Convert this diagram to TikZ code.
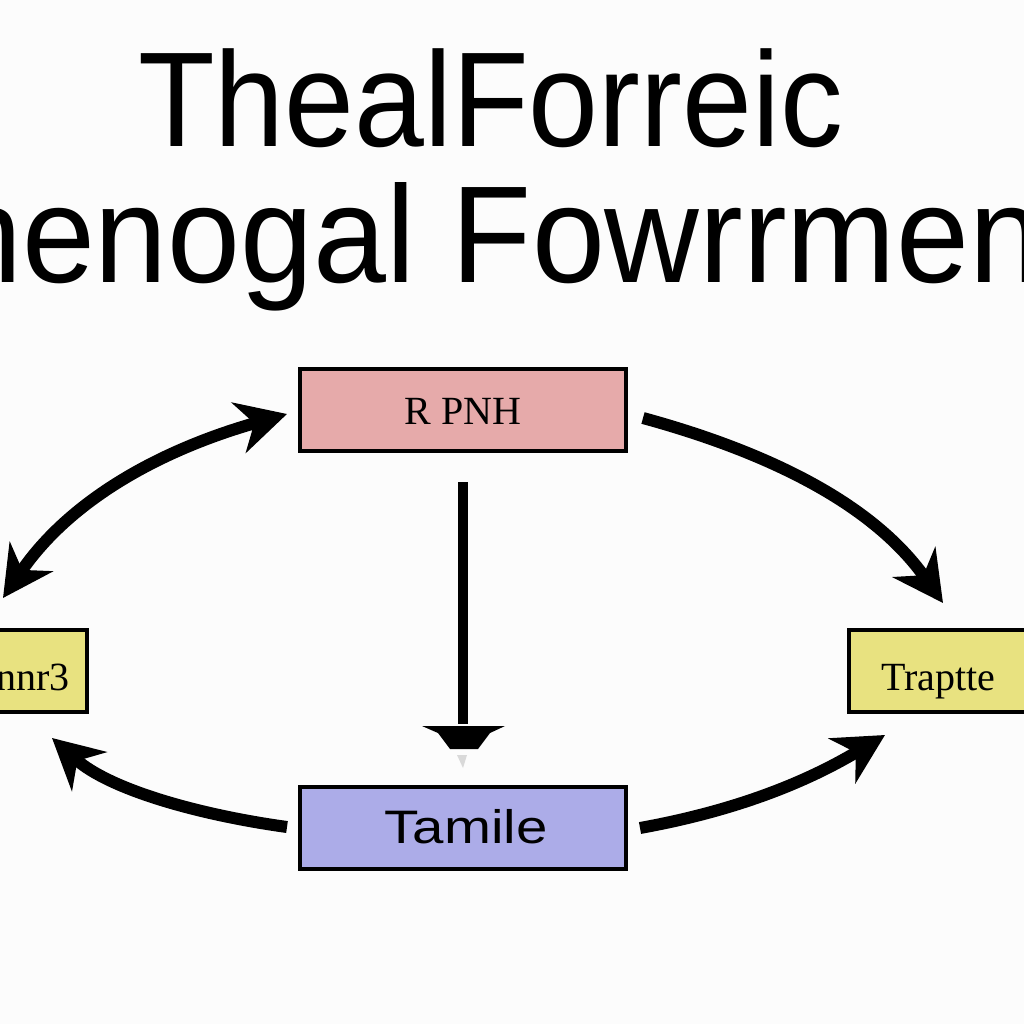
\documentclass[tikz,border=0pt]{standalone}
\usepackage{fontspec}
\setmainfont{Liberation Serif}
\newfontfamily\titlefont{Liberation Sans}
\usetikzlibrary{arrows.meta}
\definecolor{bg}{RGB}{252,252,252}
\definecolor{pinkfill}{RGB}{230,170,170}
\definecolor{yellowfill}{RGB}{232,226,128}
\definecolor{bluefill}{RGB}{172,172,232}
\tikzset{
  box/.style={draw=black, line width=4pt},
  curvearrow/.style={line width=12pt, -{Stealth[length=50pt,width=52pt,inset=16pt]}},
  dblarrow/.style={line width=12pt, {Stealth[length=50pt,width=52pt,inset=16pt]}-{Stealth[length=50pt,width=52pt,inset=16pt]}},
  boxlabel/.style={inner sep=0pt, font=\fontsize{40}{40}\selectfont},
}
\begin{document}
\begin{tikzpicture}[x=1pt,y=-1pt]
\useasboundingbox (0,0) rectangle (1024,1024);
\clip (0,0) rectangle (1024,1024);
\fill[bg] (0,0) rectangle (1024,1024);

% title
\node[inner sep=0pt, anchor=base west] (title1) at (138,147)
  {\titlefont\fontsize{135}{135}\selectfont\scalebox{0.93}[1]{ThealForreic}};
\node[inner sep=0pt, anchor=base west] (title2) at (-51,282)
  {\titlefont\fontsize{138}{138}\selectfont\scalebox{0.95}[1]{henogal Fowrrmen}};

% boxes
\filldraw[box, fill=pinkfill] (300,369) rectangle (626,451);
\node[boxlabel] (top) at (463,411) {R PNH};

\filldraw[box, fill=bluefill] (300,787) rectangle (626,869);
\node[boxlabel, font=\titlefont\fontsize{47}{47}\selectfont] (bottom) at (466,827) {\scalebox{1.2}[1]{Tamile}};

\filldraw[box, fill=yellowfill] (-20,630) rectangle (87,712);
\node[boxlabel, anchor=base east] (left) at (70,690) {nnr3};

\filldraw[box, fill=yellowfill] (849,630) rectangle (1040,712);
\node[boxlabel, anchor=base west] (right) at (881,690) {Traptte};

% connector end points
\coordinate (a1s) at (3,598);
\coordinate (a1e) at (287,414);
\coordinate (a2s) at (643,418);
\coordinate (a2e) at (943,603);
\coordinate (a3s) at (287,827);
\coordinate (a3e) at (52,738);
\coordinate (a4s) at (640,828);
\coordinate (a4e) at (885,735);
\coordinate (vtop) at (463,482);
\coordinate (vbot) at (463,724);

\draw[dblarrow] (a1s) .. controls (70,500) and (160,450) .. (a1e);
\draw[curvearrow] (a2s) .. controls (760,450) and (870,500) .. (a2e);
\draw[curvearrow] (a3s) .. controls (200,815) and (110,790) .. (a3e);
\draw[curvearrow] (a4s) .. controls (740,810) and (810,780) .. (a4e);

% vertical line with flat tip
\draw[line width=10pt] (vtop) -- (vbot);
\fill[black] (422,726) -- (505,726) -- (490,733) -- (478,749) -- (450,749) -- (438,733) -- cycle;
\fill[black!15] (457,755) -- (467,755) -- (463,768) -- cycle;
\end{tikzpicture}
\end{document}
